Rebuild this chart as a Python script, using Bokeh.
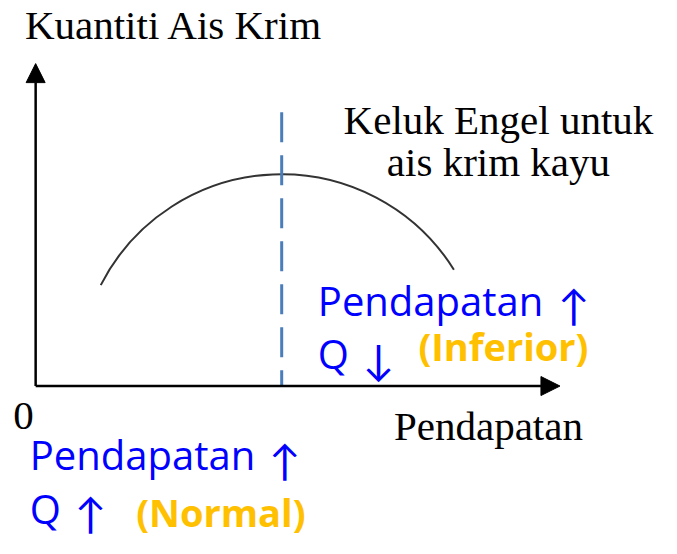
from bokeh.plotting import figure
from bokeh.models import Arrow, NormalHead
from bokeh.core.properties import value
from bokeh.embed import file_html
from bokeh.resources import INLINE
import numpy as np

# ---- picture geometry (reference-pixel units, y measured downward from top) ----
PAGE_W = 677
PAGE_H = 554

axis_origin = [36, 397]
y_axis_tip = [36, 65]
x_axis_tip = [573, 397]

engel_center = [288, 388]     # centre of the circular Engel curve
engel_radius = 208
engel_angles_deg = [32, 153]  # start / end angle of the arc

divider_x = [288, 288]
divider_y = [115, 397]

# ---- texts (baselines) ----
serif_text = ["Kuantiti Ais Krim", "0", "Pendapatan"]
serif_x = [25, 13, 403]
serif_y = [39, 442, 452]

title_text = ["Keluk Engel untuk", "ais krim kayu"]
title_x = [510, 510]
title_y = [137, 180]

blue_text = ["Pendapatan", "Q", "Pendapatan", "Q"]
blue_x = [325, 325, 30, 30]
blue_y = [323, 378, 482, 537]

arrow_text = ["↑", "↓", "↑", "↑"]
arrow_x = [571, 371, 275, 76]
arrow_y = [328, 383, 487, 542]

orange_text = ["(Inferior)", "(Normal)"]
orange_x = [428, 139]
orange_y = [370, 541]

TEXT_SHIFT = 14  # compensates the renderer's baseline offset


def fy(vals):
    return [PAGE_H - v for v in vals]


def ft(vals):
    return [PAGE_H - v + TEXT_SHIFT for v in vals]


p = figure(width=661, height=538, x_range=(0, PAGE_W), y_range=(0, PAGE_H),
           x_axis_type=None, y_axis_type=None, toolbar_location=None,
           output_backend="svg", min_border=0)
p.outline_line_color = None
p.background_fill_color = "white"
p.border_fill_color = "white"

# axes with arrow heads
for tip in (y_axis_tip, x_axis_tip):
    p.add_layout(Arrow(end=NormalHead(size=19, fill_color="black", line_color="black"),
                       x_start=axis_origin[0], y_start=PAGE_H - axis_origin[1],
                       x_end=tip[0], y_end=PAGE_H - tip[1],
                       line_width=2.5, line_color="black"))

# Engel curve (circular arc)
p.arc(x=[engel_center[0]], y=[PAGE_H - engel_center[1]], radius=engel_radius,
      start_angle=np.deg2rad(engel_angles_deg[0]), end_angle=np.deg2rad(engel_angles_deg[1]),
      line_color="#333333", line_width=2)

# dashed divider
p.line(x=divider_x, y=fy(divider_y), line_color="#4A7EBB", line_width=3,
       line_dash="30 13")

# texts
p.text(x=serif_x, y=ft(serif_y), text=serif_text, text_font=value("Liberation Serif"),
       text_font_size="41px", text_color="black", text_baseline="alphabetic",
       text_align="left")
p.text(x=title_x, y=ft(title_y), text=title_text, text_font=value("Liberation Serif"),
       text_font_size="41px", text_color="black", text_baseline="alphabetic",
       text_align="center")
p.text(x=blue_x, y=ft(blue_y), text=blue_text, text_font=value("Open Sans"),
       text_font_size="40px", text_color="#0000FF", text_baseline="alphabetic",
       text_align="left")
p.text(x=arrow_x, y=ft(arrow_y), text=arrow_text, text_font=value("Lato"),
       text_font_size="42px", text_color="#0000FF", text_baseline="alphabetic",
       text_align="left")
p.text(x=orange_x, y=ft(orange_y), text=orange_text, text_font=value("Open Sans"),
       text_font_size="38px", text_font_style="bold", text_color="#FFC000",
       text_baseline="alphabetic", text_align="left")

open("out.html", "w").write(file_html(p, INLINE))
